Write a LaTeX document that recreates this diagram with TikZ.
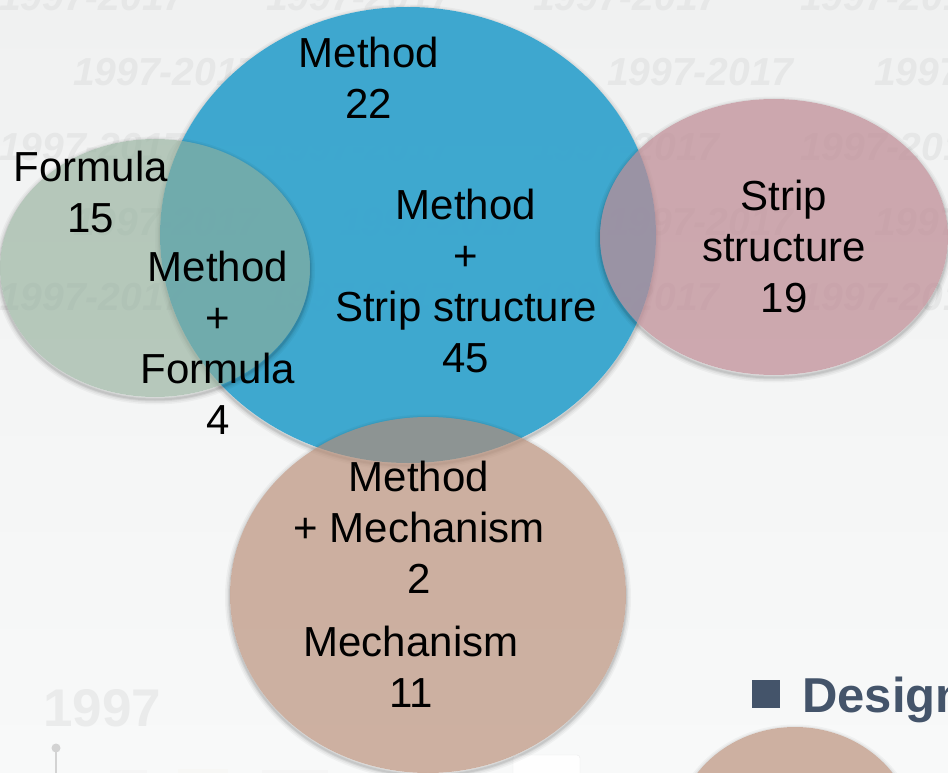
\documentclass[tikz,border=0pt]{standalone}
\usepackage{fontspec}
\setmainfont{Liberation Sans}
\definecolor{bgtop}{RGB}{240,241,241}
\definecolor{bgbot}{RGB}{248,249,249}
\definecolor{wmark}{RGB}{230,231,231}
\definecolor{cblue}{RGB}{53,164,206}
\definecolor{cgreen}{RGB}{144,173,152}
\definecolor{cpink}{RGB}{190,139,148}
\definecolor{cbrown}{RGB}{183,139,116}
\definecolor{cslate}{RGB}{68,84,106}
\definecolor{cfaint}{RGB}{234,235,235}
\newcommand\eshadow[4]{%
  \begin{scope}[even odd rule]
    \clip (#1,#2) ellipse [x radius=#3, y radius=#4] (-20,-20) rectangle (970,800);
    \foreach \w/\o in {10/0.035,7/0.045,4/0.06,2/0.07}
      \draw[black, opacity=\o, line width=\w pt] (#1,#2+2.5) ellipse [x radius=#3, y radius=#4];
  \end{scope}}
\tikzset{
  lbl/.style={align=center, font=\fontsize{42}{51}\selectfont, inner sep=0pt, text=black},
  wm/.style={anchor=west, inner sep=0pt, text=wmark, font=\fontsize{39}{39}\selectfont\bfseries\itshape},
}
\begin{document}
\begin{tikzpicture}[x=1pt,y=-1pt]
\useasboundingbox (0,0) rectangle (948,773);
\clip (0,0) rectangle (948,773);
\shade[top color=bgtop, bottom color=bgbot] (0,0) rectangle (948,773);

% watermarks
\foreach \r/\yy in {0/-3,1/72,2/147,3/222,4/297}{
  \pgfmathsetmacro\xo{mod(\r,2)==0 ? -1 : 73-267}
  \foreach \k in {0,1,2,3,4}{
    \node[wm] (wm\r\k) at (\xo+267*\k,\yy) {1997-2017};
  }
}

% faint bottom decorations
\node[anchor=base west, inner sep=0pt, text=cfaint, font=\fontsize{53}{53}\selectfont\bfseries] (y1997) at (43,726) {1997};
\fill[cfaint!90!black] (56,748) circle (4.5);
\draw[cfaint!90!black, line width=1.6pt] (56,748) -- (56,773);
\fill[white, opacity=0.9, rounded corners=3pt] (513,755) rectangle (580,785);
\draw[gray!15, rounded corners=3pt] (513,755) rectangle (580,785);
\fill[gray!8] (110,770) rectangle (147,780);
\fill[yellow!10!gray!8] (178,769) rectangle (228,780);
\fill[gray!8] (262,770) rectangle (328,780);

% blue
\eshadow{408}{235}{248}{228}
\fill[cblue, opacity=0.95] (408,235) ellipse [x radius=248, y radius=228];
% green
\eshadow{155}{268}{155}{129}
\fill[cgreen, opacity=0.62] (155,268) ellipse [x radius=155, y radius=129];
% pink
\eshadow{774}{237}{174}{138}
\fill[cpink, opacity=0.72] (774,237) ellipse [x radius=174, y radius=138];
% brown
\eshadow{428}{595}{198}{178}
\fill[cbrown, opacity=0.66] (428,595) ellipse [x radius=198, y radius=178];
% second brown (bottom right)
\eshadow{795}{837}{120}{110}
\fill[cbrown, opacity=0.66] (795,837) ellipse [x radius=120, y radius=110];

% labels
\node[lbl] (m22)  at (369,77.5)  {Method\\22};
\node[lbl] (f15)  at (91,192)    {Formula\\15};
\node[lbl] (mf4)  at (218,343)   {Method\\+\\Formula\\4};
\node[lbl] (ms45) at (466,280.5) {Method\\+\\Strip structure\\45};
\node[lbl] (s19)  at (784,246.5) {Strip\\structure\\19};
\node[lbl] (mm2)  at (419,527.5) {Method\\+ Mechanism\\2};
\node[lbl] (m11)  at (411,666.5) {Mechanism\\11};

% heading
\fill[cslate] (752,680) rectangle (780,708);
\node[anchor=base west, inner sep=0pt, text=cslate, font=\fontsize{49}{49}\selectfont\bfseries] (design) at (802,712) {Design};
\end{tikzpicture}
\end{document}
